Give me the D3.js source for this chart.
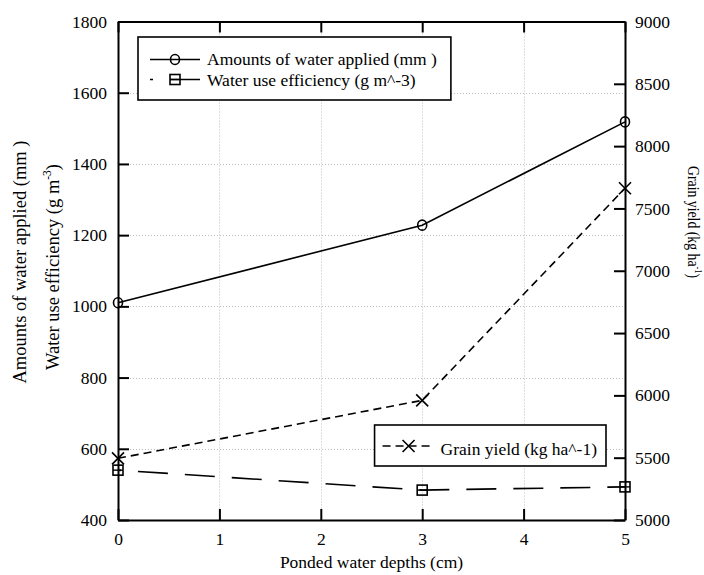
<!DOCTYPE html>
<html>
<head>
<meta charset="utf-8">
<script src="https://cdn.jsdelivr.net/npm/d3@7"></script>
<style>
  html, body { margin: 0; padding: 0; background: #fff; }
  svg { display: block; font-family: "Liberation Serif", "Times New Roman", Times, serif; }
</style>
</head>
<body>
<svg id="chart" width="704" height="575"></svg>
<script>
// ---- data ----
const depths = [0, 3, 5];
const waterApplied = [1010, 1228, 1518];
const waterUseEfficiency = [540, 484, 493];
const grainYield = [5495, 5960, 7662];
const xTicks = [0, 1, 2, 3, 4, 5];
const leftTicks = [400, 600, 800, 1000, 1200, 1400, 1600, 1800];
const rightTicks = [5000, 5500, 6000, 6500, 7000, 7500, 8000, 8500, 9000];
const gridLeftTicks = [600, 800, 1000, 1200, 1400, 1600];
const gridXTicks = [1, 2, 3, 4];

// ---- layout ----
const L = 118, R = 625, T = 21.5, B = 520;
const FS = 17.5;
const FONT = "'Liberation Serif', 'Times New Roman', Times, serif";
const svg = d3.select("#chart");

const x = d3.scaleLinear().domain([0, 5]).range([L, R]);
const yL = d3.scaleLinear().domain([400, 1800]).range([B, T]);
const yR = d3.scaleLinear().domain([5000, 9000]).range([B, T]);

// grid
const grid = svg.append("g").attr("stroke", "#bdbdbd").attr("stroke-width", 1).attr("stroke-dasharray", "1,2");
grid.selectAll("line.gx").data(gridXTicks).join("line")
  .attr("x1", d => Math.round(x(d)) + 0.5).attr("x2", d => Math.round(x(d)) + 0.5)
  .attr("y1", T).attr("y2", B);
grid.selectAll("line.gy").data(gridLeftTicks).join("line")
  .attr("x1", L).attr("x2", R)
  .attr("y1", d => Math.round(yL(d)) + 0.5).attr("y2", d => Math.round(yL(d)) + 0.5);

// axes (inward ticks)
const tickLen = 11;
const axB = svg.append("g").attr("transform", `translate(0,${B})`)
  .call(d3.axisBottom(x).tickValues(xTicks).tickSizeInner(-tickLen).tickSizeOuter(0).tickPadding(13).tickFormat(d3.format("d")));
const axT = svg.append("g").attr("transform", `translate(0,${T})`)
  .call(d3.axisTop(x).tickValues(xTicks).tickSizeInner(-tickLen).tickSizeOuter(0).tickFormat(""));
const axL = svg.append("g").attr("transform", `translate(${L},0)`)
  .call(d3.axisLeft(yL).tickValues(leftTicks).tickSizeInner(-tickLen).tickSizeOuter(0).tickPadding(11).tickFormat(d3.format("d")));
const axR = svg.append("g").attr("transform", `translate(${R},0)`)
  .call(d3.axisRight(yR).tickValues(rightTicks).tickSizeInner(-tickLen).tickSizeOuter(0).tickPadding(10).tickFormat(d3.format("d")));
[axB, axT, axL, axR].forEach(a => {
  a.attr("font-family", FONT);
  a.selectAll(".domain").attr("stroke", "#000").attr("stroke-width", 2);
  a.selectAll(".tick line").attr("stroke", "#000").attr("stroke-width", 2);
  a.selectAll("text").attr("font-size", FS).attr("fill", "#000");
});

// ---- series ----
const ptsWA = depths.map((d, i) => [x(d), yL(waterApplied[i])]);
const ptsWUE = depths.map((d, i) => [x(d), yL(waterUseEfficiency[i])]);
const ptsGY = depths.map((d, i) => [x(d), yR(grainYield[i])]);

svg.append("path").attr("d", d3.line()(ptsWA))
  .attr("fill", "none").attr("stroke", "#000").attr("stroke-width", 1.6);
svg.append("path").attr("d", d3.line()(ptsWUE))
  .attr("fill", "none").attr("stroke", "#000").attr("stroke-width", 1.6)
  .attr("stroke-dasharray", "30,17").attr("stroke-dashoffset", -20);
svg.append("path").attr("d", d3.line()(ptsGY))
  .attr("fill", "none").attr("stroke", "#000").attr("stroke-width", 1.6)
  .attr("stroke-dasharray", "8,5");

function circleMark(g, cx, cy) {
  g.append("ellipse").attr("cx", cx).attr("cy", cy).attr("rx", 4.5).attr("ry", 5)
    .attr("fill", "none").attr("stroke", "#000").attr("stroke-width", 1.6);
}
function squareMark(g, cx, cy) {
  g.append("rect").attr("x", cx - 5).attr("y", cy - 5).attr("width", 10).attr("height", 10)
    .attr("fill", "none").attr("stroke", "#000").attr("stroke-width", 1.6);
  g.append("line").attr("x1", cx - 5).attr("x2", cx + 5).attr("y1", cy).attr("y2", cy)
    .attr("stroke", "#000").attr("stroke-width", 1.4);
}
function xMark(g, cx, cy) {
  const s = 6;
  g.append("path").attr("d", `M${cx - s},${cy - s}L${cx + s},${cy + s}M${cx - s},${cy + s}L${cx + s},${cy - s}`)
    .attr("stroke", "#000").attr("stroke-width", 1.6).attr("fill", "none");
}
const marks = svg.append("g");
ptsWA.forEach(p => circleMark(marks, p[0], p[1]));
ptsWUE.forEach(p => squareMark(marks, p[0], p[1]));
ptsGY.forEach(p => xMark(marks, p[0], p[1]));

// ---- axis titles ----
const TFS = 18.5;
svg.append("text").attr("x", (L + R) / 2).attr("y", 568).attr("text-anchor", "middle")
  .attr("font-size", FS).text("Ponded water depths (cm)");

svg.append("text").attr("transform", "translate(26,262) rotate(-90)").attr("text-anchor", "middle")
  .attr("font-size", TFS).text("Amounts of water applied (mm )");

const t2 = svg.append("text").attr("transform", "translate(59,267) rotate(-90)").attr("text-anchor", "middle")
  .attr("font-size", TFS);
t2.append("tspan").text("Water use efficiency (g m");
t2.append("tspan").attr("dy", -8).attr("font-size", TFS * 0.62).text("-3");
t2.append("tspan").attr("dy", 8).text(")");

const t3 = svg.append("text").attr("transform", "translate(688,222) rotate(90)").attr("text-anchor", "middle")
  .attr("font-size", FS);
t3.append("tspan").text("Grain yield (kg ha");
t3.append("tspan").attr("dy", -7).attr("font-size", FS * 0.6).text("-1");
t3.append("tspan").attr("dy", 7).text(")");
t3.attr("textLength", 112).attr("lengthAdjust", "spacingAndGlyphs");

// ---- legend 1 ----
const lg1 = svg.append("g");
const box1 = lg1.append("rect").attr("x", 138).attr("y", 37).attr("height", 63)
  .attr("fill", "#fff").attr("stroke", "#000").attr("stroke-width", 1.6);
lg1.append("line").attr("x1", 150).attr("x2", 200).attr("y1", 59.5).attr("y2", 59.5)
  .attr("stroke", "#000").attr("stroke-width", 1.6);
circleMark(lg1, 175, 59.5);
lg1.append("line").attr("x1", 150).attr("x2", 200).attr("y1", 79.5).attr("y2", 79.5)
  .attr("stroke", "#000").attr("stroke-width", 1.6)
  .attr("stroke-dasharray", "30,17").attr("stroke-dashoffset", 27);
squareMark(lg1, 175, 79.5);
const lt1 = lg1.append("text").attr("x", 207).attr("y", 65).attr("font-size", FS).text("Amounts of water applied (mm )");
const lt2 = lg1.append("text").attr("x", 207).attr("y", 85.5).attr("font-size", FS).text("Water use efficiency (g m^-3)");
const w1 = Math.max(lt1.node().getComputedTextLength(), lt2.node().getComputedTextLength());
box1.attr("width", 207 + w1 + 14 - 138);

// ---- legend 2 ----
const lg2 = svg.append("g");
const box2 = lg2.append("rect").attr("x", 370).attr("y", 425).attr("width", 236).attr("height", 41)
  .attr("fill", "#fff").attr("stroke", "#000").attr("stroke-width", 1.6);
const lt3 = lg2.append("text").attr("text-anchor", "end").attr("x", 597).attr("y", 455)
  .attr("font-size", FS).text("Grain yield (kg ha^-1)");
const tx3 = 597 - lt3.node().getComputedTextLength();
lg2.append("line").attr("x1", tx3 - 58).attr("x2", tx3 - 6).attr("y1", 446).attr("y2", 446)
  .attr("stroke", "#000").attr("stroke-width", 1.6).attr("stroke-dasharray", "8,5");
xMark(lg2, tx3 - 32, 446);
box2.attr("x", tx3 - 66).attr("width", 606 - (tx3 - 66));
</script>
</body>
</html>
